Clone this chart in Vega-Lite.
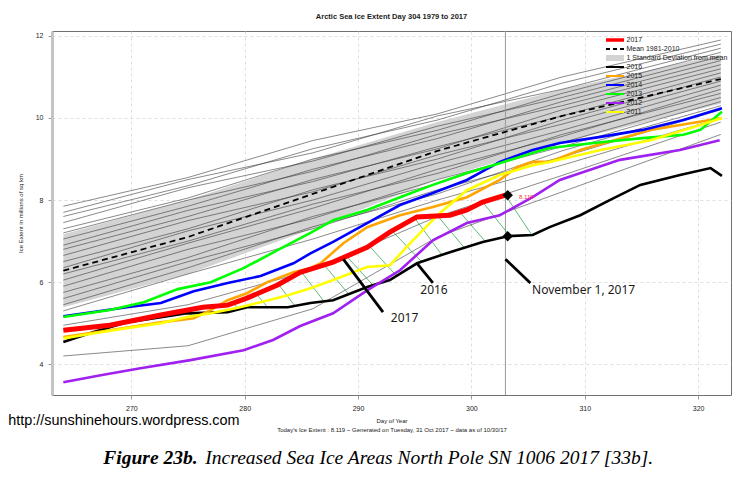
{
  "$schema": "https://vega.github.io/schema/vega-lite/v6.json",
  "width": 679,
  "height": 364,
  "autosize": {"type": "none"},
  "padding": {"left": 52, "top": 31, "right": 17, "bottom": 84},
  "background": "white",
  "config": {
    "view": {"stroke": "#707070", "strokeWidth": 1},
    "font": "Liberation Sans"
  },
  "title": {"text": "Arctic Sea Ice Extent Day 304 1979 to 2017", "fontSize": 7.5, "fontWeight": "bold", "font": "Liberation Sans", "color": "#222", "offset": 10},
  "datasets": {
    "band": [
      {"day": 264, "extent": 5.39, "extent2": 7.17},
      {"day": 275, "extent": 6.2, "extent2": 8.0},
      {"day": 286, "extent": 7.3, "extent2": 9.0},
      {"day": 297, "extent": 8.5, "extent2": 9.9},
      {"day": 308, "extent": 9.4, "extent2": 10.7},
      {"day": 322, "extent": 10.35, "extent2": 11.55}
    ],
    "mean": [
      {"day": 264, "extent": 6.28}, {"day": 275, "extent": 7.1}, {"day": 286, "extent": 8.15},
      {"day": 297, "extent": 9.2}, {"day": 308, "extent": 10.05}, {"day": 322, "extent": 10.95}
    ],
    "thin": [
      {"id": "a", "day": 264, "extent": 7.85}, {"id": "a", "day": 275, "extent": 8.55}, {"id": "a", "day": 286, "extent": 9.45}, {"id": "a", "day": 297, "extent": 10.1}, {"id": "a", "day": 308, "extent": 11.0}, {"id": "a", "day": 322, "extent": 11.9},
      {"id": "b", "day": 264, "extent": 7.7}, {"id": "b", "day": 275, "extent": 8.5}, {"id": "b", "day": 286, "extent": 9.15}, {"id": "b", "day": 297, "extent": 10.05}, {"id": "b", "day": 308, "extent": 10.7}, {"id": "b", "day": 322, "extent": 11.7},
      {"id": "c", "day": 264, "extent": 7.6}, {"id": "c", "day": 275, "extent": 8.35}, {"id": "c", "day": 286, "extent": 9.25}, {"id": "c", "day": 297, "extent": 9.95}, {"id": "c", "day": 308, "extent": 10.85}, {"id": "c", "day": 322, "extent": 11.8},
      {"id": "d", "day": 264, "extent": 7.45}, {"id": "d", "day": 275, "extent": 8.3}, {"id": "d", "day": 286, "extent": 8.95}, {"id": "d", "day": 297, "extent": 9.8}, {"id": "d", "day": 308, "extent": 10.5}, {"id": "d", "day": 322, "extent": 11.5},
      {"id": "e", "day": 264, "extent": 7.3}, {"id": "e", "day": 275, "extent": 8.05}, {"id": "e", "day": 286, "extent": 9.0}, {"id": "e", "day": 297, "extent": 9.7}, {"id": "e", "day": 308, "extent": 10.6}, {"id": "e", "day": 322, "extent": 11.6},
      {"id": "f", "day": 264, "extent": 7.2}, {"id": "f", "day": 275, "extent": 8.0}, {"id": "f", "day": 286, "extent": 8.7}, {"id": "f", "day": 297, "extent": 9.6}, {"id": "f", "day": 308, "extent": 10.3}, {"id": "f", "day": 322, "extent": 11.3},
      {"id": "g", "day": 264, "extent": 7.05}, {"id": "g", "day": 275, "extent": 7.85}, {"id": "g", "day": 286, "extent": 8.75}, {"id": "g", "day": 297, "extent": 9.5}, {"id": "g", "day": 308, "extent": 10.4}, {"id": "g", "day": 322, "extent": 11.4},
      {"id": "h", "day": 264, "extent": 6.9}, {"id": "h", "day": 275, "extent": 7.75}, {"id": "h", "day": 286, "extent": 8.45}, {"id": "h", "day": 297, "extent": 9.3}, {"id": "h", "day": 308, "extent": 10.05}, {"id": "h", "day": 322, "extent": 11.1},
      {"id": "i", "day": 264, "extent": 6.8}, {"id": "i", "day": 275, "extent": 7.6}, {"id": "i", "day": 286, "extent": 8.5}, {"id": "i", "day": 297, "extent": 9.25}, {"id": "i", "day": 308, "extent": 10.2}, {"id": "i", "day": 322, "extent": 11.2},
      {"id": "j", "day": 264, "extent": 6.65}, {"id": "j", "day": 275, "extent": 7.5}, {"id": "j", "day": 286, "extent": 8.2}, {"id": "j", "day": 297, "extent": 9.1}, {"id": "j", "day": 308, "extent": 9.85}, {"id": "j", "day": 322, "extent": 10.9},
      {"id": "k", "day": 264, "extent": 6.5}, {"id": "k", "day": 275, "extent": 7.3}, {"id": "k", "day": 286, "extent": 8.25}, {"id": "k", "day": 297, "extent": 9.0}, {"id": "k", "day": 308, "extent": 9.95}, {"id": "k", "day": 322, "extent": 11.0},
      {"id": "l", "day": 264, "extent": 6.35}, {"id": "l", "day": 275, "extent": 7.25}, {"id": "l", "day": 286, "extent": 8.0}, {"id": "l", "day": 297, "extent": 8.9}, {"id": "l", "day": 308, "extent": 9.7}, {"id": "l", "day": 322, "extent": 10.8},
      {"id": "m", "day": 264, "extent": 6.2}, {"id": "m", "day": 275, "extent": 7.0}, {"id": "m", "day": 286, "extent": 7.9}, {"id": "m", "day": 297, "extent": 8.65}, {"id": "m", "day": 308, "extent": 9.6}, {"id": "m", "day": 322, "extent": 10.6},
      {"id": "n", "day": 264, "extent": 6.05}, {"id": "n", "day": 275, "extent": 6.95}, {"id": "n", "day": 286, "extent": 7.8}, {"id": "n", "day": 297, "extent": 8.75}, {"id": "n", "day": 308, "extent": 9.55}, {"id": "n", "day": 322, "extent": 10.7},
      {"id": "o", "day": 264, "extent": 5.9}, {"id": "o", "day": 275, "extent": 6.8}, {"id": "o", "day": 286, "extent": 7.55}, {"id": "o", "day": 297, "extent": 8.5}, {"id": "o", "day": 308, "extent": 9.3}, {"id": "o", "day": 322, "extent": 10.4},
      {"id": "p", "day": 264, "extent": 5.75}, {"id": "p", "day": 275, "extent": 6.6}, {"id": "p", "day": 286, "extent": 7.6}, {"id": "p", "day": 297, "extent": 8.4}, {"id": "p", "day": 308, "extent": 9.4}, {"id": "p", "day": 322, "extent": 10.5},
      {"id": "q", "day": 264, "extent": 5.6}, {"id": "q", "day": 275, "extent": 6.5}, {"id": "q", "day": 286, "extent": 7.3}, {"id": "q", "day": 297, "extent": 8.25}, {"id": "q", "day": 308, "extent": 9.05}, {"id": "q", "day": 322, "extent": 10.2},
      {"id": "r", "day": 264, "extent": 5.45}, {"id": "r", "day": 275, "extent": 6.35}, {"id": "r", "day": 286, "extent": 7.35}, {"id": "r", "day": 297, "extent": 8.15}, {"id": "r", "day": 308, "extent": 9.2}, {"id": "r", "day": 322, "extent": 10.3},
      {"id": "s", "day": 264, "extent": 5.3}, {"id": "s", "day": 275, "extent": 6.2}, {"id": "s", "day": 286, "extent": 7.05}, {"id": "s", "day": 297, "extent": 8.0}, {"id": "s", "day": 308, "extent": 8.85}, {"id": "s", "day": 322, "extent": 10.0},
      {"id": "t", "day": 264, "extent": 4.95}, {"id": "t", "day": 275, "extent": 5.45}, {"id": "t", "day": 286, "extent": 6.3}, {"id": "t", "day": 297, "extent": 7.6}, {"id": "t", "day": 308, "extent": 8.6}, {"id": "t", "day": 322, "extent": 9.9},
      {"id": "u", "day": 264, "extent": 4.2}, {"id": "u", "day": 275, "extent": 4.45}, {"id": "u", "day": 286, "extent": 5.35}, {"id": "u", "day": 297, "extent": 7.1}, {"id": "u", "day": 308, "extent": 8.2}, {"id": "u", "day": 322, "extent": 9.6}
    ],
    "series": [
      {"series": "2017", "day": 264, "extent": 4.83}, {"series": "2017", "day": 268.1, "extent": 4.95}, {"series": "2017", "day": 272.6, "extent": 5.2}, {"series": "2017", "day": 276.3, "extent": 5.39}, {"series": "2017", "day": 278.5, "extent": 5.44}, {"series": "2017", "day": 280.2, "extent": 5.61}, {"series": "2017", "day": 282.9, "extent": 5.93}, {"series": "2017", "day": 284.9, "extent": 6.24}, {"series": "2017", "day": 287.8, "extent": 6.49}, {"series": "2017", "day": 290.8, "extent": 6.85}, {"series": "2017", "day": 292.8, "extent": 7.22}, {"series": "2017", "day": 295.2, "extent": 7.59}, {"series": "2017", "day": 298.1, "extent": 7.63}, {"series": "2017", "day": 299.6, "extent": 7.76}, {"series": "2017", "day": 301.0, "extent": 7.95}, {"series": "2017", "day": 303.0, "extent": 8.12},
      {"series": "2016", "day": 264, "extent": 4.54}, {"series": "2016", "day": 266.6, "extent": 4.78}, {"series": "2016", "day": 269.6, "extent": 5.02}, {"series": "2016", "day": 274.9, "extent": 5.24}, {"series": "2016", "day": 278.5, "extent": 5.27}, {"series": "2016", "day": 280.2, "extent": 5.39}, {"series": "2016", "day": 283.8, "extent": 5.39}, {"series": "2016", "day": 285.8, "extent": 5.49}, {"series": "2016", "day": 287.8, "extent": 5.56}, {"series": "2016", "day": 290.8, "extent": 5.88}, {"series": "2016", "day": 292.8, "extent": 6.05}, {"series": "2016", "day": 295.2, "extent": 6.46}, {"series": "2016", "day": 298.1, "extent": 6.73}, {"series": "2016", "day": 301.0, "extent": 6.98}, {"series": "2016", "day": 303.2, "extent": 7.12}, {"series": "2016", "day": 305.4, "extent": 7.15}, {"series": "2016", "day": 306.9, "extent": 7.34}, {"series": "2016", "day": 309.6, "extent": 7.63}, {"series": "2016", "day": 312.2, "extent": 8.0}, {"series": "2016", "day": 314.9, "extent": 8.37}, {"series": "2016", "day": 318.4, "extent": 8.61}, {"series": "2016", "day": 321.1, "extent": 8.78}, {"series": "2016", "day": 322.1, "extent": 8.59},
      {"series": "2015", "day": 264, "extent": 4.66}, {"series": "2015", "day": 268.1, "extent": 4.83}, {"series": "2015", "day": 272.6, "extent": 5.02}, {"series": "2015", "day": 275.5, "extent": 5.12}, {"series": "2015", "day": 277, "extent": 5.32}, {"series": "2015", "day": 278.5, "extent": 5.56}, {"series": "2015", "day": 280.2, "extent": 5.73}, {"series": "2015", "day": 282, "extent": 6.0}, {"series": "2015", "day": 284.3, "extent": 6.24}, {"series": "2015", "day": 285.8, "extent": 6.34}, {"series": "2015", "day": 286.7, "extent": 6.46}, {"series": "2015", "day": 288.7, "extent": 6.95}, {"series": "2015", "day": 290.8, "extent": 7.34}, {"series": "2015", "day": 293.7, "extent": 7.63}, {"series": "2015", "day": 296.6, "extent": 7.83}, {"series": "2015", "day": 299.6, "extent": 8.07}, {"series": "2015", "day": 302.5, "extent": 8.49}, {"series": "2015", "day": 304, "extent": 8.8}, {"series": "2015", "day": 305.4, "extent": 8.93}, {"series": "2015", "day": 306.9, "extent": 8.93}, {"series": "2015", "day": 309.6, "extent": 9.22}, {"series": "2015", "day": 315.8, "extent": 9.71}, {"series": "2015", "day": 322.1, "extent": 10.0},
      {"series": "2014", "day": 264, "extent": 5.17}, {"series": "2014", "day": 269.6, "extent": 5.39}, {"series": "2014", "day": 272.6, "extent": 5.49}, {"series": "2014", "day": 275.5, "extent": 5.78}, {"series": "2014", "day": 278.5, "extent": 5.98}, {"series": "2014", "day": 281.4, "extent": 6.15}, {"series": "2014", "day": 284.3, "extent": 6.46}, {"series": "2014", "day": 285.8, "extent": 6.7}, {"series": "2014", "day": 287.8, "extent": 6.98}, {"series": "2014", "day": 290.8, "extent": 7.44}, {"series": "2014", "day": 293.7, "extent": 7.88}, {"series": "2014", "day": 296.6, "extent": 8.17}, {"series": "2014", "day": 299.6, "extent": 8.49}, {"series": "2014", "day": 302.5, "extent": 8.93}, {"series": "2014", "day": 305.4, "extent": 9.22}, {"series": "2014", "day": 307.8, "extent": 9.39}, {"series": "2014", "day": 311.4, "extent": 9.54}, {"series": "2014", "day": 315.1, "extent": 9.71}, {"series": "2014", "day": 318.7, "extent": 9.95}, {"series": "2014", "day": 322.1, "extent": 10.24},
      {"series": "2013", "day": 264, "extent": 5.15}, {"series": "2013", "day": 268.1, "extent": 5.32}, {"series": "2013", "day": 271.1, "extent": 5.51}, {"series": "2013", "day": 274.1, "extent": 5.83}, {"series": "2013", "day": 277, "extent": 6.0}, {"series": "2013", "day": 279.9, "extent": 6.34}, {"series": "2013", "day": 282.9, "extent": 6.78}, {"series": "2013", "day": 285.8, "extent": 7.2}, {"series": "2013", "day": 287.8, "extent": 7.51}, {"series": "2013", "day": 290.8, "extent": 7.76}, {"series": "2013", "day": 293.7, "extent": 8.07}, {"series": "2013", "day": 296.6, "extent": 8.37}, {"series": "2013", "day": 299.6, "extent": 8.66}, {"series": "2013", "day": 302.5, "extent": 8.9}, {"series": "2013", "day": 305.4, "extent": 9.15}, {"series": "2013", "day": 306.9, "extent": 9.27}, {"series": "2013", "day": 311.4, "extent": 9.41}, {"series": "2013", "day": 315.1, "extent": 9.51}, {"series": "2013", "day": 318.7, "extent": 9.59}, {"series": "2013", "day": 320.2, "extent": 9.71}, {"series": "2013", "day": 322.1, "extent": 10.15},
      {"series": "2012", "day": 264, "extent": 3.56}, {"series": "2012", "day": 267.3, "extent": 3.73}, {"series": "2012", "day": 270.8, "extent": 3.9}, {"series": "2012", "day": 275.2, "extent": 4.1}, {"series": "2012", "day": 279.9, "extent": 4.34}, {"series": "2012", "day": 282.5, "extent": 4.59}, {"series": "2012", "day": 284.9, "extent": 4.93}, {"series": "2012", "day": 287.8, "extent": 5.24}, {"series": "2012", "day": 290.8, "extent": 5.8}, {"series": "2012", "day": 293.7, "extent": 6.29}, {"series": "2012", "day": 296.6, "extent": 7.02}, {"series": "2012", "day": 299.6, "extent": 7.44}, {"series": "2012", "day": 302.5, "extent": 7.63}, {"series": "2012", "day": 305.4, "extent": 8.07}, {"series": "2012", "day": 307.8, "extent": 8.49}, {"series": "2012", "day": 313.1, "extent": 8.98}, {"series": "2012", "day": 318.4, "extent": 9.22}, {"series": "2012", "day": 321.9, "extent": 9.46},
      {"series": "2011", "day": 264, "extent": 4.63}, {"series": "2011", "day": 266.6, "extent": 4.75}, {"series": "2011", "day": 269.6, "extent": 4.88}, {"series": "2011", "day": 272.6, "extent": 5.0}, {"series": "2011", "day": 274.9, "extent": 5.15}, {"series": "2011", "day": 277, "extent": 5.24}, {"series": "2011", "day": 279.3, "extent": 5.37}, {"series": "2011", "day": 281.4, "extent": 5.51}, {"series": "2011", "day": 283.8, "extent": 5.68}, {"series": "2011", "day": 285.8, "extent": 5.85}, {"series": "2011", "day": 287.8, "extent": 6.05}, {"series": "2011", "day": 290.8, "extent": 6.37}, {"series": "2011", "day": 292.8, "extent": 6.41}, {"series": "2011", "day": 294.6, "extent": 6.95}, {"series": "2011", "day": 297.2, "extent": 7.68}, {"series": "2011", "day": 299.6, "extent": 8.24}, {"series": "2011", "day": 302.5, "extent": 8.61}, {"series": "2011", "day": 305.4, "extent": 8.85}, {"series": "2011", "day": 306.9, "extent": 8.93}, {"series": "2011", "day": 311.4, "extent": 9.22}, {"series": "2011", "day": 315.8, "extent": 9.46}, {"series": "2011", "day": 320.2, "extent": 9.83}, {"series": "2011", "day": 322.1, "extent": 10.0}
    ],
    "hatch": [
      {"day": 279, "extent": 5.49, "day2": 279.5, "extent2": 5.32},
      {"day": 281, "extent": 5.72, "day2": 282, "extent2": 5.39},
      {"day": 283, "extent": 5.94, "day2": 284.4, "extent2": 5.43},
      {"day": 285, "extent": 6.25, "day2": 287, "extent2": 5.53},
      {"day": 287, "extent": 6.42, "day2": 289.2, "extent2": 5.7},
      {"day": 289, "extent": 6.63, "day2": 291.3, "extent2": 5.93},
      {"day": 291, "extent": 6.88, "day2": 293.4, "extent2": 6.15},
      {"day": 293, "extent": 7.25, "day2": 295.6, "extent2": 6.5},
      {"day": 295, "extent": 7.56, "day2": 297.4, "extent2": 6.66},
      {"day": 297, "extent": 7.62, "day2": 299.4, "extent2": 6.83},
      {"day": 299, "extent": 7.7, "day2": 301.2, "extent2": 7.0},
      {"day": 301, "extent": 7.95, "day2": 303.4, "extent2": 7.12},
      {"day": 303, "extent": 8.12, "day2": 305.3, "extent2": 7.16}
    ],
    "arrows": [
      {"day": 292.2, "extent": 5.27, "day2": 288.7, "extent2": 6.56},
      {"day": 296.6, "extent": 5.98, "day2": 295.2, "extent2": 6.46},
      {"day": 305.2, "extent": 5.98, "day2": 303.0, "extent2": 6.56}
    ],
    "labels": [
      {"day": 294.1, "extent": 5.12, "label": "2017"},
      {"day": 296.7, "extent": 5.8, "label": "2016"},
      {"day": 309.9, "extent": 5.8, "label": "November 1, 2017"}
    ],
    "diamonds": [
      {"day": 303.2, "extent": 8.12},
      {"day": 303.2, "extent": 7.12}
    ]
  },
  "encoding": {
    "x": {
      "field": "day", "type": "quantitative",
      "scale": {"domain": [263, 322.9], "nice": false, "zero": false},
      "axis": {
        "values": [270, 280, 290, 300, 310, 320],
        "grid": true, "gridDash": [3, 3], "gridColor": "#d6d6d6", "gridWidth": 0.8,
        "domain": false, "tickSize": 4, "tickColor": "#999",
        "labelFontSize": 7, "labelColor": "#222", "labelPadding": 5,
        "title": ["Day of Year", "Today's Ice Extent : 8.119 ~ Generated on Tuesday, 31 Oct 2017 ~ data as of 10/30/17"],
        "titleFontSize": 6, "titleFontWeight": "normal", "titleColor": "#222", "titlePadding": 6, "titleLineHeight": 9
      }
    },
    "y": {
      "field": "extent", "type": "quantitative",
      "scale": {"domain": [3.25, 12.12], "nice": false, "zero": false},
      "axis": {
        "values": [4, 6, 8, 10, 12],
        "grid": true, "gridDash": [3, 3], "gridColor": "#d6d6d6", "gridWidth": 0.8,
        "domain": true, "domainColor": "#c4c4c4", "domainWidth": 3,
        "tickSize": 4, "tickColor": "#999",
        "labelFontSize": 7, "labelColor": "#222", "labelPadding": 5,
        "title": "Ice Extent in millions of sq km",
        "titleFontSize": 6, "titleFontWeight": "normal", "titleColor": "#222", "titlePadding": 12
      }
    }
  },
  "layer": [
    {"data": {"name": "band"}, "mark": {"type": "area", "color": "#d3d3d3", "opacity": 1}, "encoding": {"y2": {"field": "extent2"}}},
    {"data": {"name": "thin"}, "mark": {"type": "line", "color": "#3a3a3a", "strokeWidth": 0.6}, "encoding": {"detail": {"field": "id"}}},
    {"data": {"values": [{"day": 303, "extent": 3.25, "extent2": 12.12}]}, "mark": {"type": "rule", "color": "#9a9a9a", "strokeWidth": 1}, "encoding": {"y2": {"field": "extent2"}}},
    {"data": {"name": "mean"}, "mark": {"type": "line", "color": "#000", "strokeWidth": 1.8, "strokeDash": [6, 4]}, "encoding": {}},
    {"data": {"name": "hatch"}, "mark": {"type": "rule", "color": "#1f9a3c", "strokeWidth": 0.7}, "encoding": {"x2": {"field": "day2"}, "y2": {"field": "extent2"}}},
    {
      "data": {"name": "series"},
      "transform": [{"filter": "datum.series !== '2017'"}],
      "mark": {"type": "line", "strokeWidth": 2.6},
      "encoding": {
        "color": {
          "field": "series", "type": "nominal",
          "scale": {
            "domain": ["2017", "Mean 1981-2010", "1 Standard Deviation from mean", "2016", "2015", "2014", "2013", "2012", "2011"],
            "range": ["#ff0000", "#000000", "#d3d3d3", "#000000", "#ffa500", "#0000ff", "#00ff00", "#a020f0", "#ffff00"]
          },
          "legend": {
            "orient": "none", "legendX": 552.5, "legendY": 5.2, "title": null,
            "symbolType": "M-1,0H8", "symbolSize": 16, "symbolStrokeWidth": 2,
            "clipHeight": 7.6,
            "labelFontSize": 7, "labelOffset": 15, "rowPadding": 0, "padding": 0,
            "labelColor": "#222", "labelFont": "Liberation Sans",
            "encode": {
              "symbols": {
                "update": {
                  "strokeWidth": {"signal": "datum.value === '2017' ? 3.5 : (datum.value === '1 Standard Deviation from mean' ? 6 : 2)"},
                  "strokeDash": {"signal": "datum.value === 'Mean 1981-2010' ? [4, 3] : []"}
                }
              }
            }
          }
        },
        "detail": {"field": "series"}
      }
    },
    {
      "data": {"name": "series"},
      "transform": [{"filter": "datum.series === '2017'"}],
      "mark": {"type": "line", "strokeWidth": 5},
      "encoding": {"color": {"field": "series", "type": "nominal"}}
    },
    {"data": {"name": "diamonds"}, "mark": {"type": "point", "shape": "diamond", "filled": true, "color": "#000", "size": 110, "opacity": 1}, "encoding": {}},
    {"data": {"values": [{"day": 304.2, "extent": 8.08, "label": "8.119"}]}, "mark": {"type": "text", "align": "left", "baseline": "middle", "fontSize": 6, "color": "#ff3333"}, "encoding": {"text": {"field": "label"}}},
    {"data": {"name": "arrows"}, "mark": {"type": "rule", "color": "#000", "strokeWidth": 2.8}, "encoding": {"x2": {"field": "day2"}, "y2": {"field": "extent2"}}},
    {"data": {"name": "labels"}, "mark": {"type": "text", "align": "center", "baseline": "middle", "fontSize": 12, "font": "Noto Sans", "color": "#1a1a1a"}, "encoding": {"text": {"field": "label"}}},
    {"data": {"values": [{"day": 259.15, "extent": 2.61, "label": "http://sunshinehours.wordpress.com"}]}, "mark": {"type": "text", "align": "left", "baseline": "middle", "fontSize": 14.4, "font": "Liberation Sans", "color": "#000"}, "encoding": {"text": {"field": "label"}}},
    {"data": {"values": [{"day": 267.53, "extent": 1.56, "label": "Figure 23b."}]}, "mark": {"type": "text", "align": "left", "baseline": "alphabetic", "fontSize": 19.5, "font": "Liberation Serif", "fontStyle": "italic", "fontWeight": "bold", "color": "#000"}, "encoding": {"text": {"field": "label"}}},
    {"data": {"values": [{"day": 276.53, "extent": 1.56, "label": "Increased Sea Ice Areas North Pole SN 1006 2017 [33b]."}]}, "mark": {"type": "text", "align": "left", "baseline": "alphabetic", "fontSize": 19.5, "font": "Liberation Serif", "fontStyle": "italic", "color": "#000"}, "encoding": {"text": {"field": "label"}}}
  ]
}
